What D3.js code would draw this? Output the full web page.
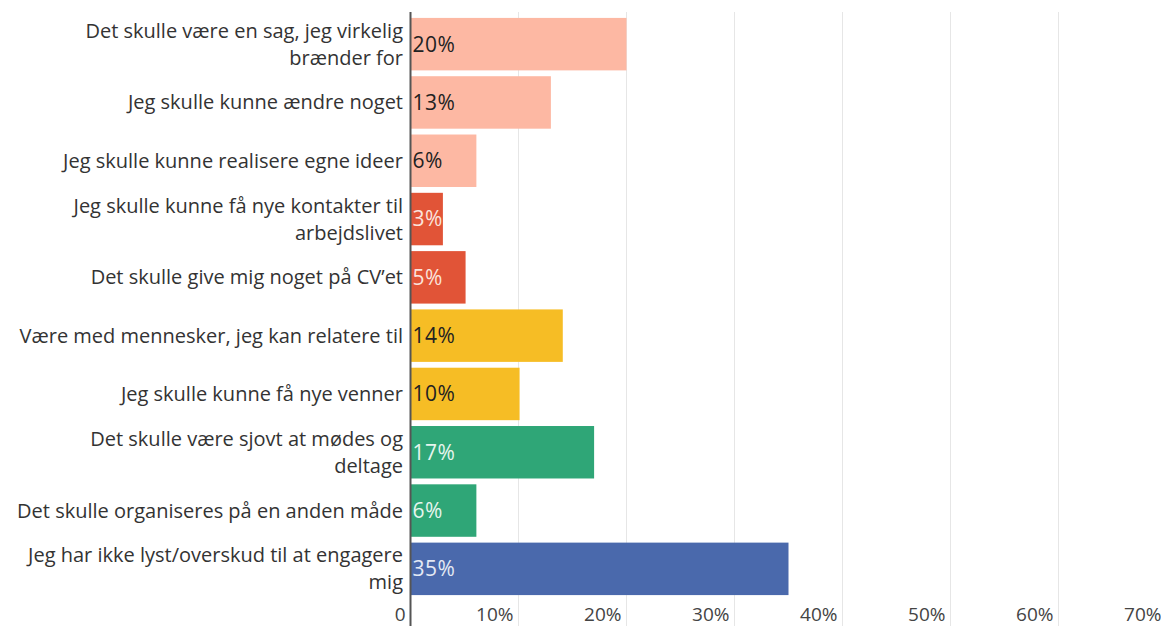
<!DOCTYPE html>
<html>
<head>
<meta charset="utf-8">
<script src="https://cdn.jsdelivr.net/npm/d3@7"></script>
<style>
  body { margin: 0; background: #fff; }
  text { font-family: "Open Sans", sans-serif; }
</style>
</head>
<body>
<div id="chart"></div>
<script>
// chart data
var categories = [
  "Det skulle være en sag, jeg virkelig\nbrænder for",
  "Jeg skulle kunne ændre noget",
  "Jeg skulle kunne realisere egne ideer",
  "Jeg skulle kunne få nye kontakter til\narbejdslivet",
  "Det skulle give mig noget på CV'et",
  "Være med mennesker, jeg kan relatere til",
  "Jeg skulle kunne få nye venner",
  "Det skulle være sjovt at mødes og\ndeltage",
  "Det skulle organiseres på en anden måde",
  "Jeg har ikke lyst/overskud til at engagere\nmig"
];
var values = [20, 13, 6.1, 3, 5.1, 14.1, 10.1, 17, 6.1, 35];
var groups = [0, 0, 0, 1, 1, 2, 2, 3, 3, 4];
var groupColors = ["#fdb8a3", "#e15437", "#f6bd25", "#2fa677", "#4a69ac"];
var groupText = ["#222", "#fbe3dc", "#222", "#e6f5ee", "#e4e9f4"];
var ticks = [0, 10, 20, 30, 40, 50, 60, 70];

var width = 1161, height = 626;

var data = categories.map(function(c, i) {
  return {label: c.replace("'", "\u2019"), value: values[i], group: groups[i]};
});

var x = d3.scaleLinear().domain([0, 70]).range([410.5, 1166.5]);
var y = d3.scaleBand()
    .domain(d3.range(data.length))
    .range([15, 598])
    .paddingInner(0.1)
    .paddingOuter(0.05);

var svg = d3.select("#chart").append("svg")
    .attr("width", width)
    .attr("height", height);

// grid lines
svg.append("g")
  .selectAll("line")
  .data(ticks.slice(1))
  .enter()
  .append("line")
  .attr("x1", function(d) { return x(d); })
  .attr("x2", function(d) { return x(d); })
  .attr("y1", 12)
  .attr("y2", height)
  .style("stroke", "#e6e6e6")
  .style("stroke-width", 1);

// bars
svg.selectAll("rect.bar")
  .data(data)
  .enter()
  .append("rect")
  .attr("class", "bar")
  .attr("x", x(0))
  .attr("y", function(d, i) { return y(i); })
  .attr("width", function(d) { return x(d.value) - x(0); })
  .attr("height", y.bandwidth())
  .style("fill", function(d) { return groupColors[d.group]; });

// value labels
svg.selectAll("text.val")
  .data(data)
  .enter()
  .append("text")
  .attr("class", "val")
  .attr("x", x(0) + 2)
  .attr("y", function(d, i) { return y(i) + y.bandwidth() / 2; })
  .attr("dy", "0.35em")
  .style("font-size", "21px")
  .style("letter-spacing", "0.5px")
  .style("fill", function(d) { return groupText[d.group]; })
  .text(function(d) { return Math.round(d.value) + "%"; });

// category labels
var cat = svg.selectAll("text.cat")
  .data(data)
  .enter()
  .append("text")
  .attr("class", "cat")
  .attr("text-anchor", "end")
  .style("font-size", "20px")
  .style("fill", "#333")
  .attr("transform", function(d, i) {
    return "translate(403," + (y(i) + y.bandwidth() / 2) + ")";
  });

cat.each(function(d) {
  var lines = d.label.split("\n");
  var t = d3.select(this);
  lines.forEach(function(l, k) {
    t.append("tspan")
      .attr("x", 0)
      .attr("y", (k - (lines.length - 1) / 2) * 27)
      .attr("dy", "0.35em")
      .text(l);
  });
});

// axis line
svg.append("line")
  .attr("x1", x(0))
  .attr("x2", x(0))
  .attr("y1", 12)
  .attr("y2", height)
  .style("stroke", "#555")
  .style("stroke-width", 2);

// tick labels
svg.selectAll("text.tick")
  .data(ticks)
  .enter()
  .append("text")
  .attr("class", "tick")
  .attr("x", function(d) { return x(d) - 5; })
  .attr("y", 621)
  .attr("text-anchor", "end")
  .style("font-size", "19px")
  .style("fill", "#444")
  .text(function(d) { return d === 0 ? "0" : d + "%"; });
</script>
</body>
</html>
